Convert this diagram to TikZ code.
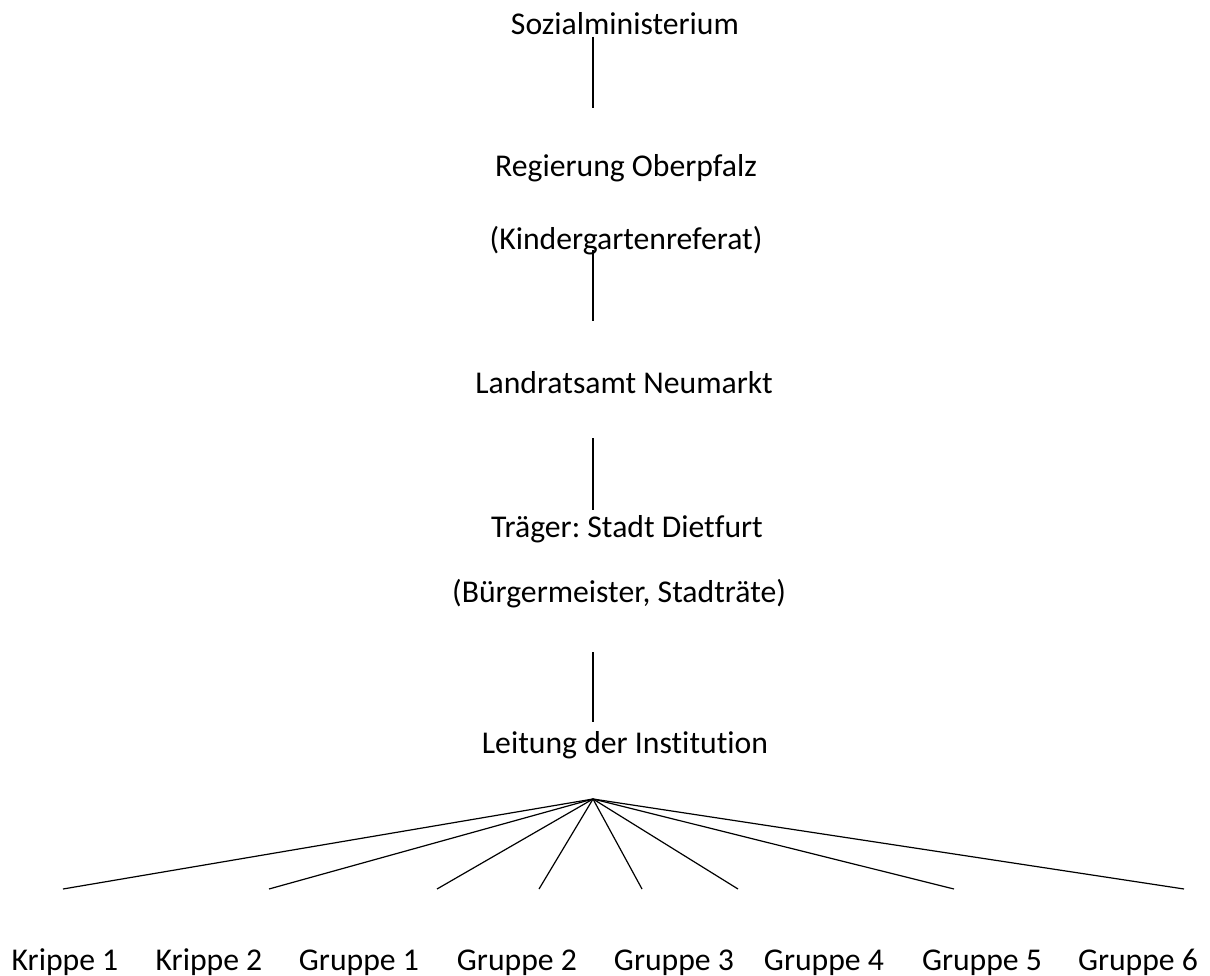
\documentclass[tikz,border=0pt]{standalone}
\usepackage{fontspec}
\setmainfont{Carlito}[Ligatures={NoCommon}]
\frenchspacing
\begin{document}
\begin{tikzpicture}[x=1pt,y=-1pt,
  lbl/.style={anchor=base,inner sep=0pt,font=\fontsize{31.7}{38}\selectfont\frenchspacing},
  conn/.style={line width=1.2pt,black}]
\useasboundingbox (0,0) rectangle (1210,976);
% labels
\node[lbl] (soz) at (625,35) {Sozialministerium};
\node[lbl] (reg) at (626,177) {Regierung Oberpfalz};
\node[lbl] (kig) at (626,250) {(Kindergartenreferat)};
\node[lbl] (lra) at (624,393) {Landratsamt Neumarkt};
\node[lbl] (trg) at (627,537) {Träger: Stadt Dietfurt};
\node[lbl] (bgm) at (619,602) {(Bürgermeister, Stadträte)};
\node[lbl] (ltg) at (625,753) {Leitung der Institution};
\node[lbl] (k1) at (65,970) {Krippe 1};
\node[lbl] (k2) at (209,970) {Krippe 2};
\node[lbl] (g1) at (359,970) {Gruppe 1};
\node[lbl] (g2) at (517,970) {Gruppe 2};
\node[lbl] (g3) at (674,970) {Gruppe 3};
\node[lbl] (g4) at (824,970) {Gruppe 4};
\node[lbl] (g5) at (982,970) {Gruppe 5};
\node[lbl] (g6) at (1138,970) {Gruppe 6};
% vertical connectors
\coordinate (v1a) at (593,37);  \coordinate (v1b) at (593,108);
\coordinate (v2a) at (593,250); \coordinate (v2b) at (593,321);
\coordinate (v3a) at (593,438); \coordinate (v3b) at (593,510);
\coordinate (v4a) at (593,652); \coordinate (v4b) at (593,722);
\draw[conn] (v1a) -- (v1b);
\draw[conn] (v2a) -- (v2b);
\draw[conn] (v3a) -- (v3b);
\draw[conn] (v4a) -- (v4b);
% fan
\coordinate (apex) at (593,799);
\coordinate (e1) at (63,889);
\coordinate (e2) at (269,889);
\coordinate (e3) at (437,889);
\coordinate (e4) at (539,889);
\coordinate (e5) at (642,889);
\coordinate (e6) at (738,889);
\coordinate (e7) at (954,889);
\coordinate (e8) at (1184,889);
\foreach \e in {e1,e2,e3,e4,e5,e6,e7,e8}
  \draw[conn] (apex) -- (\e);
\end{tikzpicture}
\end{document}
